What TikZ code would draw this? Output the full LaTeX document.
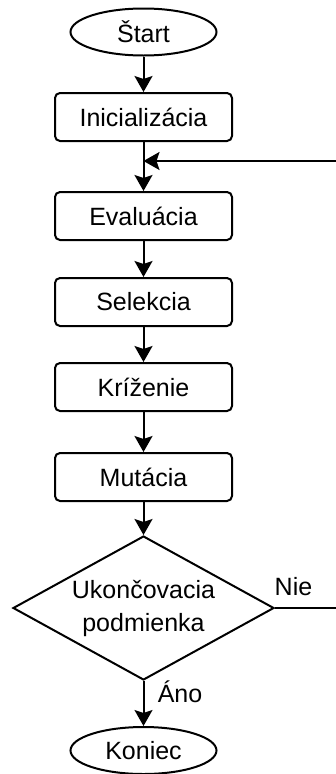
\documentclass[tikz,border=0pt]{standalone}
\usepackage{fontspec}
\setmainfont{Liberation Sans}
\usetikzlibrary{shapes.geometric,arrows.meta}

\begin{document}
\begin{tikzpicture}[x=1pt,y=-1pt,line width=2pt,
	font=\fontsize{25}{33}\selectfont,
	blok/.style={draw,rounded corners=5pt,minimum width=177pt,minimum height=48pt,inner sep=0pt},
	ovalny/.style={draw,ellipse,minimum width=146pt,minimum height=47pt,inner sep=0pt},
	rozhod/.style={draw,diamond,minimum width=261pt,minimum height=144pt,inner sep=0pt},
	sipka/.style={-{Stealth[length=16pt,width=18pt,inset=3pt]}}]
\clip (0,0) rectangle (336,774);
\node[ovalny] (start) at (143.5,32) {Štart};
\node[blok] (init) at (143.5,117) {Inicializácia};
\coordinate (spoj) at (143.5,161);
\node[blok] (eval) at (143.5,216) {Evaluácia};
\node[blok] (sel) at (143.5,302) {Selekcia};
\node[blok] (kriz) at (143.5,387) {Kríženie};
\node[blok] (mut) at (143.5,477) {Mutácia};
\node[rozhod,label={[align=center]center:Ukončovacia\\podmienka}] (cond) at (143.5,608) {};
\node[ovalny] (koniec) at (143.5,750.5) {Koniec};
\draw[sipka] (start) -- (init);
\draw[sipka] (init) -- (eval);
\draw[sipka] (eval) -- (sel);
\draw[sipka] (sel) -- (kriz);
\draw[sipka] (kriz) -- (mut);
\draw[sipka] (mut) -- (cond);
\draw[sipka] (cond) -- (koniec);
\draw[sipka] (cond.east) -- ++(80,0) |- (spoj);
\node[anchor=base] (nie) at (293.5,595) {Nie};
\node[anchor=base] (ano) at (180,702) {Áno};
\end{tikzpicture}
\end{document}
